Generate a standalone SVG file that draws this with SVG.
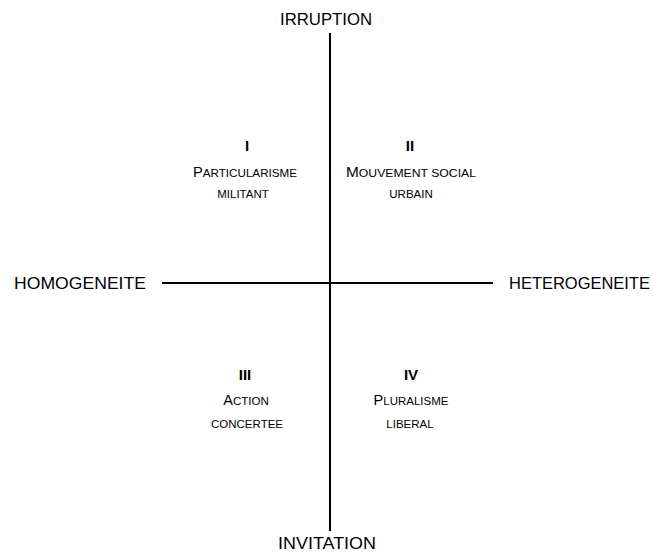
<svg xmlns="http://www.w3.org/2000/svg" width="653" height="554" viewBox="0 0 653 554">
<style>
.ax{font-family:"Liberation Sans",Arial,sans-serif;font-size:17px;fill:#000}
.q{font-family:"Liberation Sans",Arial,sans-serif;fill:#000;text-anchor:middle}
.num{font-weight:bold;font-size:15px}
.big{font-size:14.5px}
.sm{font-size:11.5px}
.line{stroke:#000;stroke-width:2;fill:none}
</style>
<rect width="653" height="554" fill="#fff"/>
<g id="connectors">
<line class="line" x1="330" y1="33" x2="330" y2="531"/>
<line class="line" x1="162" y1="283" x2="493" y2="283"/>
</g>
<g id="irruption"><text class="ax" x="326" y="25" text-anchor="middle" textLength="92" lengthAdjust="spacingAndGlyphs">IRRUPTION</text></g>
<g id="invitation"><text class="ax" x="327" y="549" text-anchor="middle" textLength="98" lengthAdjust="spacingAndGlyphs">INVITATION</text></g>
<g id="homogeneite"><text class="ax" x="14" y="289" textLength="132" lengthAdjust="spacingAndGlyphs">HOMOGENEITE</text></g>
<g id="heterogeneite"><text class="ax" x="509" y="289" textLength="141" lengthAdjust="spacingAndGlyphs">HETEROGENEITE</text></g>
<g id="q1">
<text class="q num" x="247" y="151">I</text>
<text class="q" x="245" y="177" textLength="104" lengthAdjust="spacingAndGlyphs"><tspan class="big">P</tspan><tspan class="sm">ARTICULARISME</tspan></text>
<text class="q sm" x="243" y="198">MILITANT</text>
</g>
<g id="q2">
<text class="q num" x="410" y="151">II</text>
<text class="q" x="411" y="177" textLength="130" lengthAdjust="spacingAndGlyphs"><tspan class="big">M</tspan><tspan class="sm">OUVEMENT SOCIAL</tspan></text>
<text class="q sm" x="411" y="198">URBAIN</text>
</g>
<g id="q3">
<text class="q num" x="245" y="380">III</text>
<text class="q" x="246" y="405"><tspan class="big">A</tspan><tspan class="sm">CTION</tspan></text>
<text class="q sm" x="247" y="428">CONCERTEE</text>
</g>
<g id="q4">
<text class="q num" x="411" y="380">IV</text>
<text class="q" x="411" y="405"><tspan class="big">P</tspan><tspan class="sm">LURALISME</tspan></text>
<text class="q sm" x="410" y="428">LIBERAL</text>
</g>
</svg>
